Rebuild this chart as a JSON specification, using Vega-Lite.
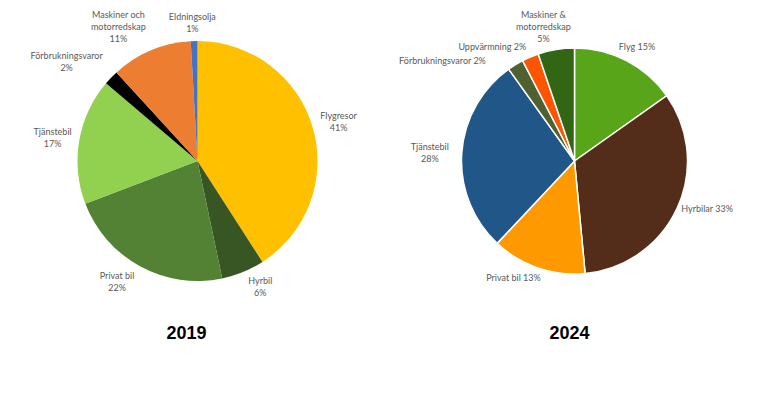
{
  "$schema": "https://vega.github.io/schema/vega-lite/v6.json",
  "padding": {"top": -6, "left": 0, "right": 0, "bottom": 0},
  "spacing": 0,
  "bounds": "flush",
  "background": "white",
  "config": {
    "view": {"stroke": null},
    "title": {"orient": "bottom", "font": "Liberation Sans", "fontSize": 18, "fontWeight": "bold", "color": "#000000", "offset": 5},
    "text": {"font": "Lato", "fontSize": 9, "color": "#595959", "lineBreak": "\n", "lineHeight": 12, "align": "center", "baseline": "top"}
  },
  "datasets": {
    "y2019": [
      {"i": 1, "kategori": "Flygresor", "andel": 40.9, "etikett": "Flygresor\n41%"},
      {"i": 2, "kategori": "Hyrbil", "andel": 5.8, "etikett": "Hyrbil\n6%"},
      {"i": 3, "kategori": "Privat bil", "andel": 22.5, "etikett": "Privat bil\n22%"},
      {"i": 4, "kategori": "Tjänstebil", "andel": 17.0, "etikett": "Tjänstebil\n17%"},
      {"i": 5, "kategori": "Förbrukningsvaror", "andel": 2.0, "etikett": "Förbrukningsvaror\n2%"},
      {"i": 6, "kategori": "Maskiner och motorredskap", "andel": 10.9, "etikett": "Maskiner och\nmotorredskap\n11%"},
      {"i": 7, "kategori": "Eldningsolja", "andel": 0.9, "etikett": "Eldningsolja\n1%"}
    ],
    "y2024": [
      {"i": 1, "kategori": "Flyg", "andel": 15.2, "etikett": "Flyg 15%"},
      {"i": 2, "kategori": "Hyrbilar", "andel": 33.3, "etikett": "Hyrbilar 33%"},
      {"i": 3, "kategori": "Privat bil", "andel": 13.5, "etikett": "Privat bil 13%"},
      {"i": 4, "kategori": "Tjänstebil", "andel": 28.1, "etikett": "Tjänstebil\n28%"},
      {"i": 5, "kategori": "Förbrukningsvaror", "andel": 2.3, "etikett": "Förbrukningsvaror 2%"},
      {"i": 6, "kategori": "Uppvärmning", "andel": 2.4, "etikett": "Uppvärmning 2%"},
      {"i": 7, "kategori": "Maskiner & motorredskap", "andel": 5.2, "etikett": "Maskiner &\nmotorredskap\n5%"}
    ]
  },
  "resolve": {"scale": {"color": "independent", "theta": "independent"}},
  "hconcat": [
    {
      "width": 395,
      "height": 318,
      "title": {"text": "2019", "dx": -11},
      "data": {"name": "y2019"},
      "encoding": {
        "theta": {"field": "andel", "type": "quantitative", "stack": true},
        "order": {"field": "i", "type": "quantitative"}
      },
      "layer": [
        {
          "mark": {"type": "arc", "outerRadius": 120},
          "encoding": {
            "color": {
              "field": "kategori", "type": "nominal", "legend": null,
              "scale": {
                "domain": ["Flygresor", "Hyrbil", "Privat bil", "Tjänstebil", "Förbrukningsvaror", "Maskiner och motorredskap", "Eldningsolja"],
                "range": ["#FFC000", "#375623", "#548235", "#92D050", "#000000", "#ED7D31", "#4472C4"]
              }
            }
          }
        },
        {
          "mark": {"type": "text", "radius": 147, "dy": -8},
          "encoding": {"text": {"condition": {"test": "datum.i == 1 || datum.i == 4", "field": "etikett"}, "value": ""}}
        },
        {
          "mark": {"type": "text", "radius": 147, "dx": 7, "dy": -20},
          "encoding": {"text": {"condition": {"test": "datum.i == 2", "field": "etikett"}, "value": ""}}
        },
        {
          "mark": {"type": "text", "radius": 147, "dx": -10, "dy": -18},
          "encoding": {"text": {"condition": {"test": "datum.i == 3", "field": "etikett"}, "value": ""}}
        },
        {
          "mark": {"type": "text", "radius": 147, "dx": -25, "dy": -7},
          "encoding": {"text": {"condition": {"test": "datum.i == 5", "field": "etikett"}, "value": ""}}
        },
        {
          "mark": {"type": "text", "radius": 147, "dx": -22, "dy": -15},
          "encoding": {"text": {"condition": {"test": "datum.i == 6", "field": "etikett"}, "value": ""}}
        },
        {
          "mark": {"type": "text", "radius": 147, "dx": -1, "dy": -1},
          "encoding": {"text": {"condition": {"test": "datum.i == 7", "field": "etikett"}, "value": ""}}
        }
      ]
    },
    {
      "width": 359,
      "height": 318,
      "title": {"text": "2024", "dx": -5},
      "data": {"name": "y2024"},
      "encoding": {
        "theta": {"field": "andel", "type": "quantitative", "stack": true},
        "order": {"field": "i", "type": "quantitative"}
      },
      "layer": [
        {
          "mark": {"type": "arc", "outerRadius": 113, "stroke": "white", "strokeWidth": 1.5},
          "encoding": {
            "color": {
              "field": "kategori", "type": "nominal", "legend": null,
              "scale": {
                "domain": ["Flyg", "Hyrbilar", "Privat bil", "Tjänstebil", "Förbrukningsvaror", "Uppvärmning", "Maskiner & motorredskap"],
                "range": ["#58A51A", "#542D1A", "#FF9900", "#215689", "#4F6130", "#FF5500", "#336614"]
              }
            }
          }
        },
        {
          "mark": {"type": "text", "radius": 136, "dx": 0, "dy": 3},
          "encoding": {"text": {"condition": {"test": "datum.i == 1", "field": "etikett"}, "value": ""}}
        },
        {
          "mark": {"type": "text", "radius": 136, "dx": 9, "dy": -13},
          "encoding": {"text": {"condition": {"test": "datum.i == 2", "field": "etikett"}, "value": ""}}
        },
        {
          "mark": {"type": "text", "radius": 136, "dx": -17, "dy": -16},
          "encoding": {"text": {"condition": {"test": "datum.i == 3", "field": "etikett"}, "value": ""}}
        },
        {
          "mark": {"type": "text", "radius": 136, "dx": -9, "dy": -9},
          "encoding": {"text": {"condition": {"test": "datum.i == 4", "field": "etikett"}, "value": ""}}
        },
        {
          "mark": {"type": "text", "radius": 136, "dx": -61, "dy": 12},
          "encoding": {"text": {"condition": {"test": "datum.i == 5", "field": "etikett"}, "value": ""}}
        },
        {
          "mark": {"type": "text", "radius": 136, "dx": -29, "dy": 7},
          "encoding": {"text": {"condition": {"test": "datum.i == 6", "field": "etikett"}, "value": ""}}
        },
        {
          "mark": {"type": "text", "radius": 136, "dx": -9, "dy": -16},
          "encoding": {"text": {"condition": {"test": "datum.i == 7", "field": "etikett"}, "value": ""}}
        }
      ]
    }
  ]
}
